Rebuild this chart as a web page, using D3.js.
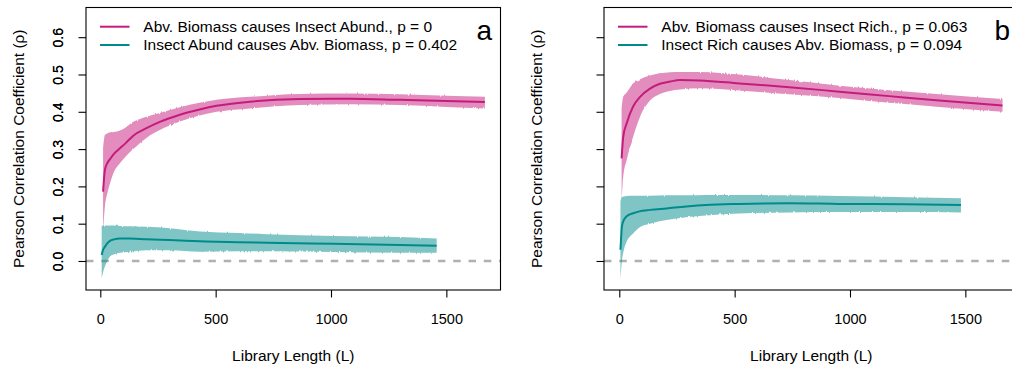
<!DOCTYPE html>
<html>
<head>
<meta charset="utf-8">
<script src="https://cdn.jsdelivr.net/npm/d3@7/dist/d3.min.js"></script>
<style>
  html, body { margin: 0; padding: 0; background: #fff; }
  svg { display: block; font-family: "Liberation Sans", Arial, Helvetica, sans-serif; }
</style>
</head>
<body>
<svg id="chart" width="1012" height="366"></svg>
<script>
// ---- Panel a: above-ground biomass vs insect abundance ----
const aForwardL    = [12, 20, 30, 42, 60, 85, 110, 143, 200, 258, 345, 430, 504, 648, 865, 1082, 1299, 1500, 1667];
const aForwardMean = [0.186, 0.244, 0.262, 0.273, 0.288, 0.302, 0.316, 0.336, 0.356, 0.373, 0.392, 0.406, 0.416, 0.427, 0.434, 0.435, 0.432, 0.429, 0.426];
const aForwardLo   = [0.080, 0.146, 0.180, 0.208, 0.240, 0.262, 0.280, 0.300, 0.330, 0.351, 0.374, 0.390, 0.400, 0.409, 0.418, 0.420, 0.418, 0.413, 0.409];
const aForwardHi   = [0.300, 0.338, 0.342, 0.345, 0.346, 0.350, 0.358, 0.373, 0.387, 0.397, 0.412, 0.424, 0.432, 0.440, 0.448, 0.449, 0.447, 0.443, 0.440];

const aReverseL    = [6, 12, 20, 30, 42, 60, 85, 128, 200, 300, 432, 600, 721, 1010, 1299, 1458];
const aReverseMean = [0.016, 0.030, 0.038, 0.047, 0.054, 0.058, 0.060, 0.060, 0.058, 0.056, 0.053, 0.050, 0.049, 0.046, 0.043, 0.041];
const aReverseLo   = [-0.046, -0.030, -0.015, 0.000, 0.012, 0.018, 0.022, 0.025, 0.029, 0.029, 0.025, 0.026, 0.026, 0.024, 0.022, 0.022];
const aReverseHi   = [0.094, 0.095, 0.096, 0.095, 0.095, 0.095, 0.094, 0.093, 0.092, 0.088, 0.079, 0.075, 0.072, 0.067, 0.064, 0.060];

const aLegend = ["Abv. Biomass causes Insect Abund., p = 0", "Insect Abund causes Abv. Biomass, p = 0.402"];

// ---- Panel b: above-ground biomass vs insect richness ----
const bForwardL    = [10, 17, 32, 60, 90, 133, 176, 220, 263, 350, 520, 737, 954, 1170, 1387, 1661];
const bForwardMean = [0.275, 0.333, 0.369, 0.414, 0.440, 0.462, 0.475, 0.481, 0.485, 0.484, 0.476, 0.466, 0.454, 0.442, 0.430, 0.417];
const bForwardLo   = [0.164, 0.226, 0.271, 0.333, 0.387, 0.430, 0.448, 0.456, 0.460, 0.463, 0.457, 0.447, 0.437, 0.424, 0.413, 0.400];
const bForwardHi   = [0.410, 0.440, 0.452, 0.476, 0.487, 0.497, 0.503, 0.506, 0.507, 0.507, 0.500, 0.485, 0.470, 0.458, 0.447, 0.434];

const bReverseL    = [5, 12, 20, 32, 60, 87, 133, 205, 290, 376, 520, 737, 954, 1243, 1481];
const bReverseMean = [0.030, 0.095, 0.110, 0.120, 0.128, 0.133, 0.137, 0.141, 0.146, 0.150, 0.153, 0.155, 0.153, 0.152, 0.150];
const bReverseLo   = [-0.048, 0.003, 0.030, 0.052, 0.074, 0.090, 0.100, 0.110, 0.117, 0.122, 0.127, 0.130, 0.131, 0.131, 0.130];
const bReverseHi   = [0.160, 0.172, 0.173, 0.174, 0.175, 0.175, 0.175, 0.176, 0.176, 0.177, 0.177, 0.176, 0.174, 0.171, 0.168];

const bLegend = ["Abv. Biomass causes Insect Rich., p = 0.063", "Insect Rich causes Abv. Biomass, p = 0.094"];

const xTicks = [0, 500, 1000, 1500];
const yTicks = [0.0, 0.1, 0.2, 0.3, 0.4, 0.5, 0.6];

const pinkLine = "#C51B7D", pinkBand = "rgba(197,27,125,0.5)";
const tealLine = "#008B8B", tealBand = "rgba(0,139,139,0.5)";

const svg = d3.select("#chart");
const FONT = 15.5, XTICK_FONT = 14.5, YTICK_FONT = 14;

// Fine vertical jitter along the edges of the bootstrap bands
const defs = svg.append("defs");
const rough = defs.append("filter").attr("id", "rough")
  .attr("x", "-2%").attr("y", "-10%").attr("width", "104%").attr("height", "120%")
  .attr("color-interpolation-filters", "sRGB");
rough.append("feTurbulence").attr("type", "fractalNoise")
  .attr("baseFrequency", "0.7 0.03").attr("numOctaves", 2).attr("seed", 3).attr("result", "noise");
rough.append("feColorMatrix").attr("in", "noise").attr("type", "matrix")
  .attr("values", "0 0 0 0 0.5  0 1 0 0 0  0 0 1 0 0  0 0 0 0 1").attr("result", "vnoise");
rough.append("feDisplacementMap").attr("in", "SourceGraphic").attr("in2", "vnoise")
  .attr("scale", 2.5).attr("xChannelSelector", "R").attr("yChannelSelector", "G");

function zip(L, m, lo, hi) {
  return L.map((l, i) => ({ L: l, m: m[i], lo: lo[i], hi: hi[i] }));
}

function panel(opts) {
  const { left, letter, legend, forward, reverse, xDomain } = opts;
  const top = 7.5, bottom = 290, width = 414.5;
  const x = d3.scaleLinear().domain(xDomain).range([left, left + width]);
  const y = d3.scaleLinear().domain([-0.0778, 0.6796]).range([bottom, top]);
  const id = "clip-" + letter;

  defs.append("clipPath").attr("id", id)
    .append("rect").attr("x", left).attr("y", top).attr("width", width).attr("height", bottom - top);

  const g = svg.append("g");
  const plot = g.append("g").attr("clip-path", `url(#${id})`);

  // zero reference
  plot.append("line")
    .attr("x1", left).attr("x2", left + width)
    .attr("y1", y(0)).attr("y2", y(0))
    .attr("stroke", "#B0B0B0").attr("stroke-width", 2.3)
    .attr("stroke-dasharray", "7.5,7.8");

  const area = d3.area().x(d => x(d.L)).y0(d => y(d.lo)).y1(d => y(d.hi)).curve(d3.curveMonotoneX);
  const line = d3.line().x(d => x(d.L)).y(d => y(d.m)).curve(d3.curveMonotoneX);

  const bands = plot.append("g").attr("filter", "url(#rough)");
  [[forward, pinkBand], [reverse, tealBand]].forEach(([s, c]) => {
    bands.append("path").datum(s).attr("d", area).attr("fill", c).attr("stroke", "none");
  });
  [[forward, pinkLine], [reverse, tealLine]].forEach(([s, c]) => {
    plot.append("path").datum(s).attr("d", line).attr("fill", "none")
      .attr("stroke", c).attr("stroke-width", 2).attr("stroke-linejoin", "round");
  });

  // frame
  g.append("rect").attr("x", left).attr("y", top).attr("width", width).attr("height", bottom - top)
    .attr("fill", "none").attr("stroke", "#000").attr("stroke-width", 1.1);

  // x axis
  const xa = g.append("g").attr("transform", `translate(0,${bottom})`)
    .call(d3.axisBottom(x).tickValues(xTicks).tickFormat(d3.format("d")).tickSize(7.5).tickPadding(0));
  xa.attr("font-family", null).attr("font-size", null);
  xa.select(".domain").remove();
  xa.selectAll(".tick line").attr("stroke", "#000").attr("stroke-width", 1.1);
  xa.selectAll(".tick text").attr("y", 33.5).attr("dy", 0)
    .attr("font-size", XTICK_FONT).attr("fill", "#000");

  // y axis with labels running bottom-to-top
  const ya = g.append("g").attr("transform", `translate(${left},0)`)
    .call(d3.axisLeft(y).tickValues(yTicks).tickFormat(d3.format(".1f")).tickSize(7.5));
  ya.attr("font-family", null).attr("font-size", null);
  ya.select(".domain").remove();
  ya.selectAll(".tick line").attr("stroke", "#000").attr("stroke-width", 1.1);
  ya.selectAll(".tick text")
    .attr("x", null).attr("dy", null)
    .attr("text-anchor", "middle")
    .attr("transform", `translate(${62.5 - left},0) rotate(-90)`)
    .attr("font-size", YTICK_FONT).attr("fill", "#000");

  // axis titles
  g.append("text").attr("x", left + width / 2).attr("y", 361)
    .attr("text-anchor", "middle").attr("font-size", FONT).text("Library Length (L)");
  g.append("text")
    .attr("transform", `translate(${left - 62.5},${(top + bottom) / 2}) rotate(-90)`)
    .attr("text-anchor", "middle").attr("font-size", FONT).text("Pearson Correlation Coefficient (ρ)");

  // legend
  [[legend[0], pinkLine, 26.7], [legend[1], tealLine, 45]].forEach(([t, c, yy]) => {
    g.append("line").attr("x1", left + 14).attr("x2", left + 43.5).attr("y1", yy).attr("y2", yy)
      .attr("stroke", c).attr("stroke-width", 2);
    g.append("text").attr("x", left + 57.3).attr("y", yy + 5).attr("font-size", FONT).text(t);
  });

  // panel letter
  g.append("text").attr("x", left + width - 8.5).attr("y", 39.5)
    .attr("text-anchor", "end").attr("font-size", 28).text(letter);
}

panel({
  left: 86, letter: "a", legend: aLegend, xDomain: [-62, 1734.7],
  forward: zip(aForwardL, aForwardMean, aForwardLo, aForwardHi),
  reverse: zip(aReverseL, aReverseMean, aReverseLo, aReverseHi)
});
panel({
  left: 604, letter: "b", legend: bLegend, xDomain: [-66.3, 1730.4],
  forward: zip(bForwardL, bForwardMean, bForwardLo, bForwardHi),
  reverse: zip(bReverseL, bReverseMean, bReverseLo, bReverseHi)
});
</script>
</body>
</html>
